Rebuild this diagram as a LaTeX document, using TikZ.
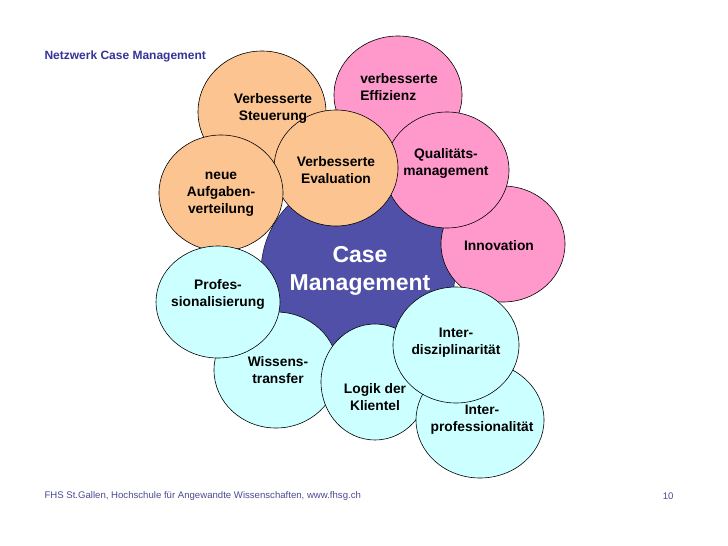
\documentclass[tikz,border=0pt]{standalone}
\usepackage{fontspec}
\setmainfont{Liberation Sans}
\usetikzlibrary{shapes.geometric}
\definecolor{org}{HTML}{FBC490}
\definecolor{pnk}{HTML}{FF99CC}
\definecolor{cyn}{HTML}{CCFFFF}
\definecolor{cen}{HTML}{5050A8}
\definecolor{ttl}{HTML}{333399}
\begin{document}
\begin{tikzpicture}[x=1pt,y=-1pt,
 bub/.style={ellipse,draw=black,line width=0.6pt,minimum width=#1,align=center,inner sep=0pt},
 bub/.default=124pt]
\useasboundingbox (0,0) rectangle (728,546);
\node[ellipse,draw=black,fill=cen,minimum width=194pt,minimum height=192pt] (cm) at (358,272) {};
\node[bub,fill=org,minimum height=122pt,minimum width=128pt] (st) at (262,112) {};
\node[bub,fill=pnk,minimum height=118pt,minimum width=128pt] (ef) at (398,95) {};
\node[bub,fill=pnk,minimum height=116pt] (in) at (503,244) {};
\node[bub,fill=pnk,minimum height=116pt] (qm) at (447,170) {};
\node[bub,fill=org,minimum height=116pt] (ev) at (336,168) {};
\node[bub,fill=org,minimum height=116pt] (na) at (221,193) {};
\node[bub,fill=cyn,minimum height=116pt] (wt) at (276,370) {};
\node[bub,fill=cyn,minimum height=116pt,minimum width=108pt] (lk) at (375,382) {};
\node[bub,fill=cyn,minimum height=116pt,minimum width=128pt] (ip) at (480,420) {};
\node[bub,fill=cyn,minimum height=116pt,minimum width=126pt] (id) at (456,345) {};
\node[bub,fill=cyn,minimum height=112pt] (pr) at (218,302) {};
\tikzset{lab/.style={align=center,font=\bfseries\fontsize{13.8}{17}\selectfont}}
\node[lab] (tst) at (273,108) {Verbesserte\\Steuerung};
\node[lab,align=left] (tef) at (399,87) {verbesserte\\Effizienz};
\node[lab] (tin) at (499,246) {Innovation};
\node[lab] (tqm) at (446,163) {Qualitäts-\\management};
\node[lab] (tev) at (336,170) {Verbesserte\\Evaluation};
\node[lab] (tna) at (221,194) {neue\\Aufgaben-\\verteilung};
\node[lab] (twt) at (278,370) {Wissens-\\transfer};
\node[lab] (tlk) at (375,397) {Logik der\\Klientel};
\node[lab] (tip) at (482,420) {Inter-\\professionalität};
\node[lab] (tid) at (456,343) {Inter-\\disziplinarität};
\node[lab] (tpr) at (218,294) {Profes-\\sionalisierung};
\node[align=center,text=white,font=\bfseries\fontsize{23}{28}\selectfont] (tcm) at (360,271) {Case\\Management};
\node[anchor=west,text=ttl,font=\bfseries\fontsize{12}{14}\selectfont] (title) at (41,56) {Netzwerk Case Management};
\node[anchor=west,text=ttl!70!gray,font=\fontsize{9.6}{11}\selectfont] (foot) at (41,496) {FHS St.Gallen, Hochschule für Angewandte Wissenschaften, www.fhsg.ch};
\node[anchor=east,text=ttl!70!gray,font=\fontsize{9.6}{11}\selectfont] (pg) at (677,496) {10};
\end{tikzpicture}
\end{document}
